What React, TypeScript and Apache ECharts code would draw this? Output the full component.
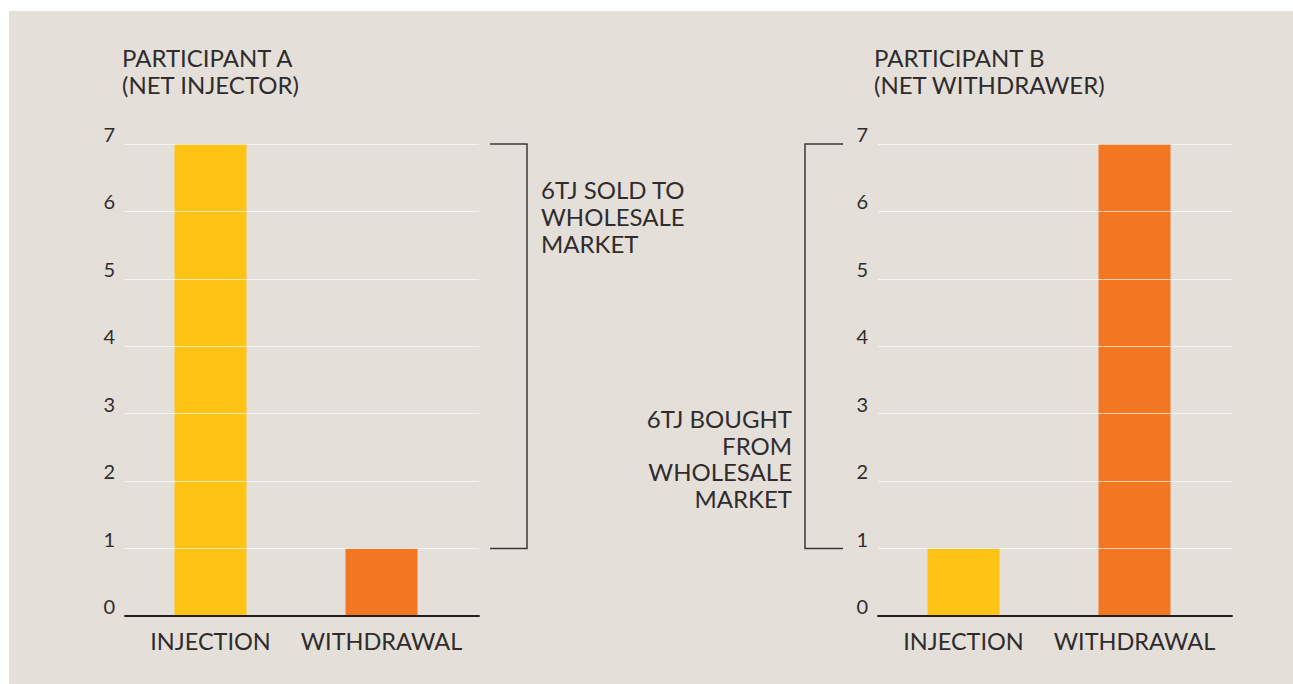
import React, { useEffect, useRef } from "react";
import * as echarts from "echarts";

const categories = ["INJECTION", "WITHDRAWAL"];
const categoryPositions = [0.5, 1.5];
const participantAValues = [7, 1];
const participantBValues = [1, 7];
const yTicks = [0, 1, 2, 3, 4, 5, 6, 7];
const titleA = "PARTICIPANT A\n(NET INJECTOR)";
const titleB = "PARTICIPANT B\n(NET WITHDRAWER)";
const noteA = "6TJ SOLD TO\nWHOLESALE\nMARKET";
const noteB = "6TJ BOUGHT\nFROM\nWHOLESALE\nMARKET";
const bracketValues = [1, 7];

const YELLOW = "#FEC314";
const ORANGE = "#F37722";
const TEXT = "#302c2d";
const BG = "#E4E0D9";
const FONT = "Lato";

const barColors = [YELLOW, ORANGE];

export default function App() {
  const ref = useRef<HTMLDivElement>(null);

  useEffect(() => {
    if (!ref.current) return;
    const chart = echarts.init(ref.current, null, { renderer: "svg" });

    const gridTop = 133;
    const gridHeight = 472;
    const gridWidth = 354;
    const gridLeftA = 116;
    const gridLeftB = 869;
    const xMax = 2.07;

    const mkX = (gi: number) => ({
      type: "value",
      gridIndex: gi,
      min: 0,
      max: xMax,
      interval: 0.5,
      z: 5,
      axisLine: { show: true, onZero: true, lineStyle: { color: "#231F20", width: 2 } },
      axisTick: { show: false },
      splitLine: { show: false },
      axisLabel: {
        showMinLabel: true,
        showMaxLabel: false,
        margin: 13,
        color: TEXT,
        fontFamily: FONT,
        fontWeight: "normal",
        fontSize: 23.5,
        formatter: (v: number) => {
          const i = categoryPositions.findIndex((p) => Math.abs(p - v) < 1e-6);
          return i >= 0 ? categories[i] : "";
        },
      },
    });

    const mkY = (gi: number) => ({
      type: "value",
      gridIndex: gi,
      min: yTicks[0],
      max: yTicks[yTicks.length - 1],
      interval: 1,
      z: 5,
      axisLine: { show: false },
      axisTick: { show: false },
      splitLine: { show: true, lineStyle: { color: "rgba(255,255,255,0.65)", width: 1.2 } },
      axisLabel: {
        margin: 10,
        color: TEXT,
        fontFamily: FONT,
        fontWeight: "normal",
        fontSize: 20,
        verticalAlign: "bottom",
        lineHeight: 20,
        padding: [0, 0, 0, 0],
      },
    });

    const mkData = (vals: number[]) =>
      vals.map((v, i) => ({ value: [categoryPositions[i], v], itemStyle: { color: barColors[i] } }));

    const titleStyle = {
      color: TEXT,
      fontFamily: FONT,
      fontWeight: "normal",
      fontSize: 24,
      lineHeight: 27,
    };

    chart.setOption({
      animation: false,
      backgroundColor: BG,
      title: [
        { text: titleA, left: 113, top: 33, padding: 0, textStyle: titleStyle },
        { text: titleB, left: 865, top: 33, padding: 0, textStyle: titleStyle },
      ],
      grid: [
        { left: gridLeftA, top: gridTop, width: gridWidth, height: gridHeight, containLabel: false },
        { left: gridLeftB, top: gridTop, width: gridWidth, height: gridHeight, containLabel: false },
      ],
      xAxis: [mkX(0), mkX(1)],
      yAxis: [mkY(0), mkY(1)],
      series: [
        { type: "bar", xAxisIndex: 0, yAxisIndex: 0, barWidth: 72, data: mkData(participantAValues) },
        { type: "bar", xAxisIndex: 1, yAxisIndex: 1, barWidth: 72, data: mkData(participantBValues) },
      ],
    });

    const yLo = chart.convertToPixel({ yAxisIndex: 0 }, bracketValues[0]) as number;
    const yHi = chart.convertToPixel({ yAxisIndex: 0 }, bracketValues[1]) as number;
    const rightA = chart.convertToPixel({ xAxisIndex: 0 }, xMax) as number;
    const leftB = chart.convertToPixel({ xAxisIndex: 1 }, 0) as number;

    const lineStyle = { stroke: "#3b3738", lineWidth: 1.5, fill: null };
    const noteFont = `normal 24px ${FONT}`;

    chart.setOption({
      graphic: [
        {
          type: "polyline",
          shape: {
            points: [
              [rightA + 11, yHi],
              [rightA + 48, yHi],
              [rightA + 48, yLo],
              [rightA + 11, yLo],
            ],
          },
          style: lineStyle,
        },
        {
          type: "polyline",
          shape: {
            points: [
              [leftB - 35, yHi],
              [leftB - 73, yHi],
              [leftB - 73, yLo],
              [leftB - 35, yLo],
            ],
          },
          style: lineStyle,
        },
        {
          type: "text",
          x: rightA + 62,
          y: 165,
          style: { text: noteA, font: noteFont, fill: TEXT, lineHeight: 27, align: "left", verticalAlign: "top" },
        },
        {
          type: "text",
          x: leftB - 86,
          y: 394,
          style: { text: noteB, font: noteFont, fill: TEXT, lineHeight: 26.7, align: "right", verticalAlign: "top" },
        },
      ],
    });

    return () => chart.dispose();
  }, []);

  return (
    <div
      ref={ref}
      style={{ position: "absolute", left: 9, top: 11, width: 1284, height: 673 }}
    />
  );
}
